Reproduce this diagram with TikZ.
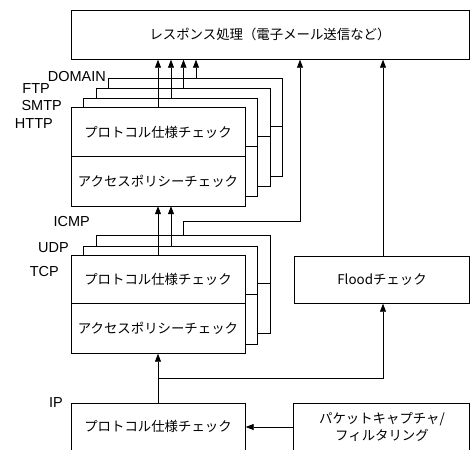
\documentclass[tikz,border=0pt]{standalone}
\usepackage{fontspec}
\setmainfont{Liberation Sans}
\newfontfamily\jpfont{Noto Sans CJK JP}
\usetikzlibrary{arrows.meta}
\begin{document}
\begin{tikzpicture}[x=1pt,y=-1pt,
  box/.style={draw, fill=white, line width=0.7pt, inner sep=0pt, anchor=north west},
  lab/.style={font=\fontsize{14.5}{16}\selectfont, inner sep=0pt, anchor=east},
  jt/.style={font=\jpfont\fontsize{13.4}{17}\selectfont, inner sep=0pt, align=center},
  arr/.style={-{Triangle[length=8pt,width=6pt]}, line width=0.7pt},
  ln/.style={line width=0.7pt}]
\useasboundingbox (0,0) rectangle (470,449);
\clip (0,0) rectangle (470,449);

% top response box
\node[box, minimum width=398pt, minimum height=49pt] (resp) at (71,10) {};
\node[jt] (resptext) at (270,34) {レスポンス処理（電子メール送信など）};

% upper stack (application layer)
\node[box, minimum width=174pt, minimum height=98pt] (dom) at (108,78) {};
\draw[ln] ([yshift=-48.5pt]dom.north west) -- ([yshift=-48.5pt]dom.north east);
\node[box, minimum width=174pt, minimum height=98pt] (ftp) at (96,88) {};
\draw[ln] ([yshift=-48.5pt]ftp.north west) -- ([yshift=-48.5pt]ftp.north east);
\node[box, minimum width=174pt, minimum height=98pt] (smtp) at (83,98) {};
\draw[ln] ([yshift=-48.5pt]smtp.north west) -- ([yshift=-48.5pt]smtp.north east);
\node[box, minimum width=174pt, minimum height=98pt] (http) at (71,107.5) {};
\draw[ln] ([yshift=-48.5pt]http.north west) -- ([yshift=-48.5pt]http.north east);
\node[jt] (httpp) at (158,132) {プロトコル仕様チェック};
\node[jt] (httpa) at (158,181) {アクセスポリシーチェック};

\node[lab] (ldom) at (106,76.5) {DOMAIN};
\node[lab] (lftp) at (50,89) {FTP};
\node[lab] (lsmtp) at (62,106) {SMTP};
\node[lab] (lhttp) at (53,124) {HTTP};

% lower stack (transport layer)
\node[box, minimum width=174pt, minimum height=98pt] (icmp) at (96,235) {};
\draw[ln] ([yshift=-48.5pt]icmp.north west) -- ([yshift=-48.5pt]icmp.north east);
\node[box, minimum width=174pt, minimum height=98pt] (udp) at (83,245.5) {};
\draw[ln] ([yshift=-48.5pt]udp.north west) -- ([yshift=-48.5pt]udp.north east);
\node[box, minimum width=174pt, minimum height=98pt] (tcp) at (71,255) {};
\draw[ln] ([yshift=-48.5pt]tcp.north west) -- ([yshift=-48.5pt]tcp.north east);
\node[jt] (tcpp) at (158,279) {プロトコル仕様チェック};
\node[jt] (tcpa) at (158,328.5) {アクセスポリシーチェック};

\node[lab] (licmp) at (90,222) {ICMP};
\node[lab] (ludp) at (69,248) {UDP};
\node[lab] (ltcp) at (59,272) {TCP};

% flood box
\node[box, minimum width=175pt, minimum height=47pt] (flood) at (294,256) {};
\node[jt] (floodt) at (382,279.5) {Floodチェック};

% IP box and packet capture box
\node[box, minimum width=174pt, minimum height=60pt] (ip) at (71,403) {};
\node[jt] (ipt) at (158,426) {プロトコル仕様チェック};
\node[lab] (lip) at (63,403) {IP};
\node[box, minimum width=176pt, minimum height=60pt] (pkt) at (293,403) {};
\node[jt] (pktt) at (382,426.5) {パケットキャプチャ/\\フィルタリング};

% helper coordinates
\coordinate (xa) at (158,0);
\coordinate (xb) at (171,0);
\coordinate (xc) at (183.5,0);
\coordinate (xd) at (196,0);
\coordinate (bend) at (300,221);
\coordinate (xf) at (383,0);
\coordinate (br) at (383,378);
\coordinate (py) at (0,427);

% connectors
\draw[arr] (xa |- http.north) -- (xa |- resp.south);
\draw[arr] (xb |- smtp.north) -- (xb |- resp.south);
\draw[arr] (xc |- ftp.north) -- (xc |- resp.south);
\draw[arr] (xd |- dom.north) -- (xd |- resp.south);
\draw[arr] (xc |- icmp.north) |- (bend) -- (bend |- resp.south);
\draw[arr] (xa |- tcp.north) -- (xa |- http.south);
\draw[arr] (xb |- udp.north) -- (xb |- http.south);
\draw[arr] (xf |- flood.north) -- (xf |- resp.south);
\draw[arr] (xa |- ip.north) -- (xa |- tcp.south);
\draw[arr] (xa |- br) -- (br) -- (br |- flood.south);
\draw[arr] (pkt.west |- py) -- (ip.east |- py);
\end{tikzpicture}
\end{document}
